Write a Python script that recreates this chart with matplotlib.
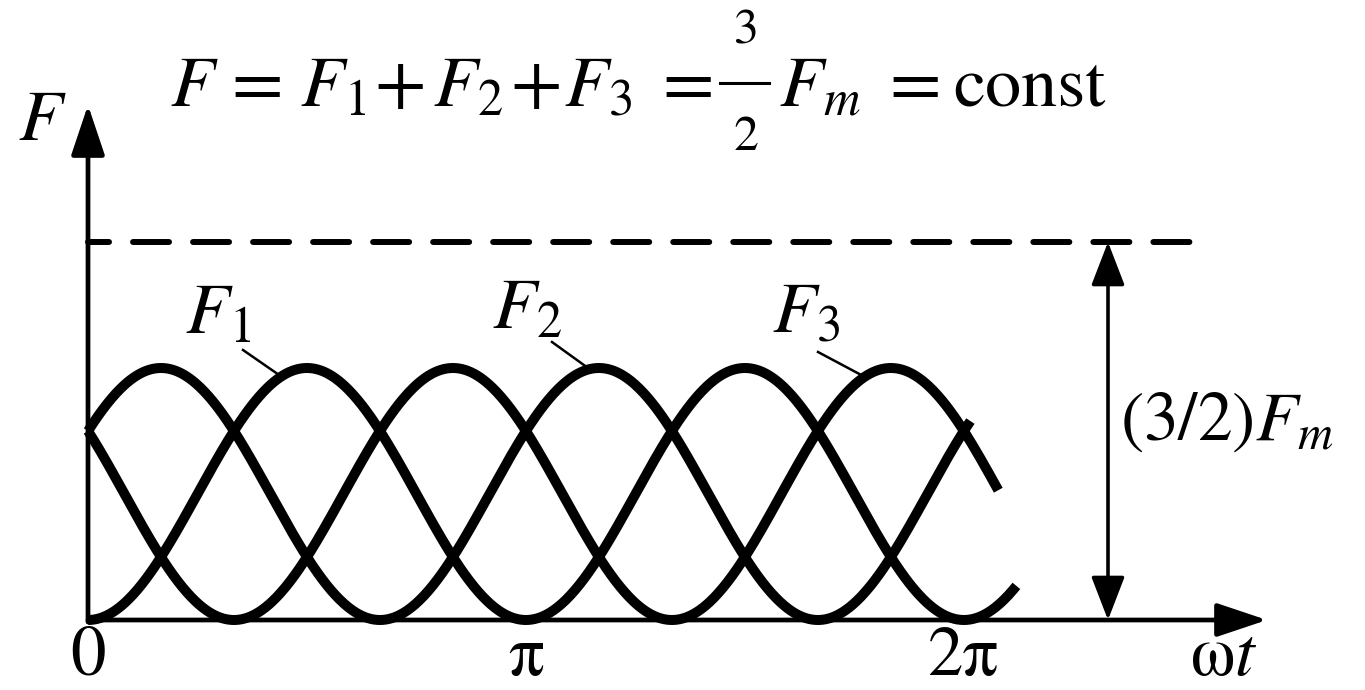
import numpy as np
import matplotlib.pyplot as plt
from matplotlib.patches import FancyArrowPatch

plt.rcParams['mathtext.fontset'] = 'stix'
plt.rcParams['font.family'] = ['STIXGeneral', 'DejaVu Sans']

# data
fm = 1.0                                  # amplitude of each mmf
total = 1.5 * fm                          # F1+F2+F3 = (3/2)Fm
curve_labels = [r'$F_1$', r'$F_2$', r'$F_3$']
phases = [0.0, 4 * np.pi / 3, 2 * np.pi / 3]   # phase of 2*wt
curve_ends = [6.66, 6.33, 6.53]           # where each curve stops (rad)
tick_pos = [0, np.pi, 2 * np.pi]
tick_lab = ['0', 'π', '2π']

# pixel -> data helper for placing annotations
X0, Y0, SX, SY = 88, 620, 139.4, 252.0
def d(x, y):
    return ((x - X0) / SX, (Y0 - y) / SY)

fig = plt.figure(figsize=(13.65, 6.9), dpi=100)
ax = fig.add_axes([0, 0, 1, 1])
ax.set_xlim(-X0 / SX, (1365 - X0) / SX)
ax.set_ylim((Y0 - 690) / SY, Y0 / SY)
for s in ax.spines.values():
    s.set_visible(False)
ax.spines['bottom'].set_position(('data', 0))
ax.set_xticks(tick_pos, tick_lab)
ax.tick_params(axis='x', length=0, pad=4, labelsize=51)
ax.set_yticks([])

# curves
for ph, end in zip(phases, curve_ends):
    t = np.linspace(0, end, 600)
    ax.plot(t, fm * (1 - np.cos(2 * t - ph)) / 2, color='k', lw=7.2,
            solid_capstyle='butt')

# constant sum line
ax.plot([0, d(1192, 0)[0]], [total, total], color='k', lw=4.3,
        ls=(2.51, (6.03, 4.02)), dash_capstyle='round')

def arrow(p0, p1, style, hl, hw, lw):
    ax.add_patch(FancyArrowPatch(p0, p1,
                 arrowstyle=f'{style},head_length={hl},head_width={hw}',
                 mutation_scale=1, lw=lw, color='k', shrinkA=0, shrinkB=0))

# axes
arrow((0, -0.008), d(88, 105), '-|>', 31, 10.4, 3.4)
arrow((0, 0), d(1267, 620), '-|>', 31, 10.4, 3.4)
# (3/2)Fm dimension
arrow((d(1108, 0)[0], 0), (d(1108, 0)[0], total), '<|-|>', 27, 10.4, 2.6)

# labels with leader lines
lab_pos = [(185, 333), (492, 328), (772, 332)]
leaders = [((243, 350), (282, 377)), ((552, 342), (588, 368)),
           ((818, 352), (865, 377))]
for lab, pos, (a, b) in zip(curve_labels, lab_pos, leaders):
    ax.text(*d(*pos), lab, fontsize=52, ha='left', va='baseline')
    ax.plot(*zip(d(*a), d(*b)), color='k', lw=1.8)

# title formula, laid out piece by piece
symbols = [(170, r'$F$'), (300, r'$F_1$'), (433, r'$F_2$'), (564, r'$F_3$'),
           (779, r'$F_m$')]
for x, s in symbols:
    ax.text(*d(x, 106), s, fontsize=52, ha='left', va='baseline')
for x, s in [(257, '='), (400, '+'), (536, '+'), (688, '='), (915, '=')]:
    ax.text(*d(x, 106), s, fontsize=54, ha='center', va='baseline')
ax.text(*d(953, 106), 'const', fontsize=52, ha='left', va='baseline')
ax.text(*d(746, 44), '3', fontsize=36, ha='center', va='baseline')
ax.text(*d(746, 150), '2', fontsize=36, ha='center', va='baseline')
ax.plot(*zip(d(720, 83), d(769, 83)), color='k', lw=2.2)

ax.text(*d(18, 140), r'$F$', fontsize=52, ha='left', va='baseline')
ax.text(*d(1120, 440), r'$(3/2)F_m$', fontsize=50, ha='left', va='baseline')
ax.text(*d(1224, 675), r'$\mathrm{\omega}t$', fontsize=51, ha='center',
        va='baseline')

fig.savefig('out.png', dpi=100)
